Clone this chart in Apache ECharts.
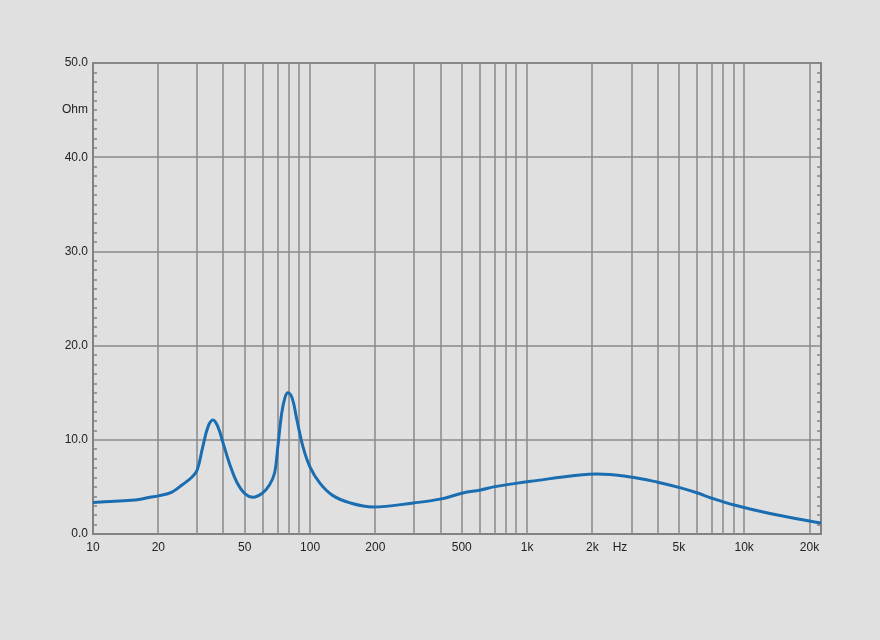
<!DOCTYPE html>
<html>
<head>
<meta charset="utf-8">
<script src="https://cdn.jsdelivr.net/npm/echarts@6/dist/echarts.min.js"></script>
<style>
html,body{margin:0;padding:0;background:#e0e0e0;}
#chart{width:880px;height:640px;}
</style>
</head>
<body>
<div id="chart"></div>
<script>
// Frequency (Hz) and impedance (Ohm)
var freqs = [10, 12, 15.6, 18.3, 20, 23.1, 25.7, 28.6, 30.2, 32, 33.9, 35.7, 37.6, 39.7, 42.8, 46, 50, 54.6, 60, 65, 68.7, 71, 74, 76.7, 79, 82.8, 87, 92.9, 100, 111, 127, 153, 195, 300, 397, 506, 610, 700, 900, 1040, 1750, 2100, 3000, 4000, 5100, 6100, 7100, 9000, 13000, 20000, 22600];
var impedance = [3.35, 3.45, 3.6, 3.9, 4.05, 4.45, 5.2, 6.05, 6.8, 9.2, 11.4, 12.1, 11.4, 9.7, 7.3, 5.5, 4.3, 3.9, 4.3, 5.2, 6.5, 9.2, 12.8, 14.5, 15.0, 14.4, 12.1, 9.2, 7.1, 5.4, 4.1, 3.3, 2.87, 3.3, 3.7, 4.35, 4.67, 5.0, 5.4, 5.6, 6.26, 6.37, 6.05, 5.5, 4.9, 4.35, 3.8, 3.08, 2.2, 1.38, 1.17];

// Vertical grid line frequencies
var gridFreqs = [20, 30, 40, 50, 60, 70, 80, 90, 100, 200, 300, 400, 500, 600, 700, 800, 900, 1000, 2000, 3000, 4000, 5000, 6000, 7000, 8000, 9000, 10000, 20000];
// X tick labels
var xTickFreqs = [10, 20, 50, 100, 200, 500, 1000, 2000, 5000, 10000, 20000];
var xTickLabels = ['10', '20', '50', '100', '200', '500', '1k', '2k', '5k', '10k', '20k'];
var xUnitFreq = 2680, xUnitLabel = 'Hz';
// Y tick labels
var yTicks = [0, 10, 20, 30, 40, 50];
var yTickLabels = ['0.0', '10.0', '20.0', '30.0', '40.0', '50.0'];
var yUnitValue = 45, yUnitLabel = 'Ohm';

var fMin = 10, fMax = 22600;

var lg = Math.log10;
var seriesData = freqs.map(function (f, i) { return [lg(f), impedance[i]]; });
var xLabelVals = xTickFreqs.map(lg).concat([lg(xUnitFreq)]);
var xLabelTexts = xTickLabels.concat([xUnitLabel]);
var yLabelVals = yTicks.concat([yUnitValue]);
var yLabelTexts = yTickLabels.concat([yUnitLabel]);

function lookup(vals, texts, v) {
  var best = 0, bd = Infinity;
  for (var i = 0; i < vals.length; i++) {
    var d = Math.abs(vals[i] - v);
    if (d < bd) { bd = d; best = i; }
  }
  return texts[best];
}

var axisColor = '#828282';
var gridColor = '#8a8a8a';
var textStyle = { color: '#222', fontSize: 12, fontFamily: 'Liberation Sans, Arial, sans-serif' };

var chart = echarts.init(document.getElementById('chart'));
chart.setOption({
  backgroundColor: '#e0e0e0',
  animation: false,
  grid: { left: 93, top: 63, right: 59, bottom: 106, show: true, borderColor: axisColor, borderWidth: 2, backgroundColor: 'transparent' },
  xAxis: {
    type: 'value',
    min: lg(fMin), max: lg(fMax),
    axisLine: { show: true, lineStyle: { color: axisColor, width: 2 } },
    axisTick: { show: false },
    splitLine: { show: false },
    axisLabel: Object.assign({
      customValues: xLabelVals,
      margin: 8,
      formatter: function (v) { return lookup(xLabelVals, xLabelTexts, v); }
    }, textStyle)
  },
  yAxis: [{
    type: 'value',
    min: 0, max: 50, interval: 10,
    axisLine: { show: true, lineStyle: { color: axisColor, width: 2 } },
    axisTick: { show: false, inside: true },
    minorTick: { show: true, splitNumber: 10, length: 4, lineStyle: { color: axisColor, width: 1.5 } },
    splitLine: { show: true, lineStyle: { color: gridColor, width: 1.5 } },
    axisLabel: Object.assign({
      customValues: yLabelVals,
      margin: 5,
      formatter: function (v) { return lookup(yLabelVals, yLabelTexts, v); }
    }, textStyle)
  }, {
    type: 'value',
    position: 'right',
    min: 0, max: 50, interval: 10,
    axisLine: { show: true, lineStyle: { color: axisColor, width: 2 } },
    axisTick: { show: false, inside: true },
    minorTick: { show: true, splitNumber: 10, length: 4, lineStyle: { color: axisColor, width: 1.5 } },
    splitLine: { show: false },
    axisLabel: { show: false }
  }],
  series: [{
    type: 'line',
    z: 1,
    data: [],
    silent: true,
    markLine: {
      silent: true,
      symbol: 'none',
      label: { show: false },
      lineStyle: { color: gridColor, width: 1.5, type: 'solid' },
      emphasis: { disabled: true },
      data: gridFreqs.map(function (f) { return { xAxis: lg(f) }; })
    }
  }, {
    type: 'line',
    z: 5,
    data: seriesData,
    showSymbol: false,
    smooth: 0.4,
    lineStyle: { color: '#1a6db0', width: 3 },
    itemStyle: { color: '#1a6db0' }
  }]
});
</script>
</body>
</html>
